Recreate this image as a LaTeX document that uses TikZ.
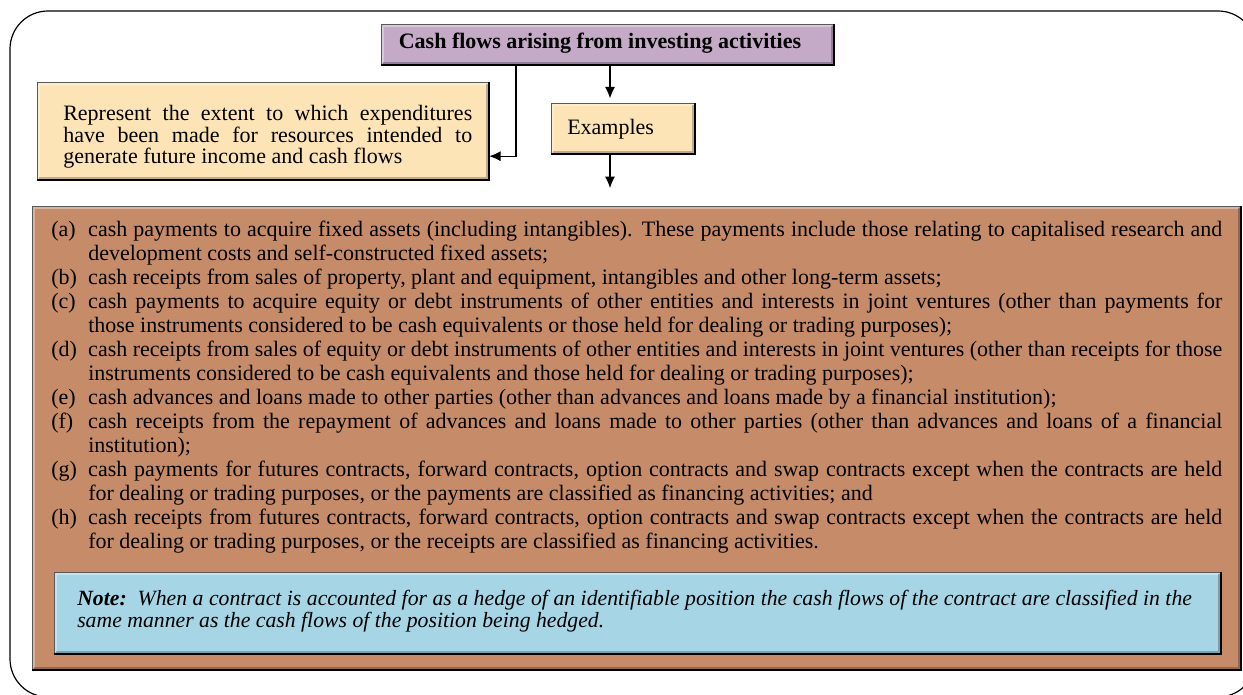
\documentclass[tikz,border=0pt]{standalone}
\usepackage{fontspec}
\setmainfont{Liberation Serif}
\usetikzlibrary{arrows.meta,calc}
\definecolor{titlepurple}{HTML}{C5AAC8}
\definecolor{tanfill}{HTML}{FDE4B6}
\definecolor{brownfill}{HTML}{C68B68}
\definecolor{bluefill}{HTML}{A6D5E5}
\newcommand{\listitem}[2]{\hangindent=27.75pt\hangafter=1\noindent\makebox[27.75pt][l]{#1}#2\par}
\begin{document}
\begin{tikzpicture}[x=0.75pt,y=-0.75pt,
  arr/.style={-{Latex[length=8.5pt,width=7.5pt]}, line width=0.8pt},
  boxbase/.style={draw=gray!70!black, line width=0.9pt, inner sep=0pt, anchor=north west},
  txt/.style={inner sep=0pt, anchor=base west},
  bev/.style={line width=1.6pt, black}]
\useasboundingbox (0,0) rectangle (1243,695);
\clip (0,0) rectangle (1243,695);
% outer frame
\draw[line width=0.9pt, rounded corners=28.5pt] (10,11) rectangle (1256,697);
% boxes
\node[boxbase, fill=titlepurple, minimum width=339pt, minimum height=30pt] (title) at (381,24) {};
\node[boxbase, fill=tanfill, minimum width=338.25pt, minimum height=72.75pt] (rep) at (37,82) {};
\node[boxbase, fill=tanfill, minimum width=107.25pt, minimum height=37.5pt] (ex) at (551,103) {};
\node[boxbase, fill=brownfill, minimum width=906pt, minimum height=347.25pt] (brown) at (32,206) {};
\node[boxbase, fill=bluefill, minimum width=874.5pt, minimum height=60.75pt] (note) at (54,572) {};
% bevels
\foreach \n in {title,rep,ex,brown,note}{
  \draw[white, opacity=0.35, line width=1.2pt] ([shift={(2,-2)}]\n.south west) -- ([shift={(2,2)}]\n.north west) -- ([shift={(-2,2)}]\n.north east);
  \draw[black, opacity=0.25, line width=1.2pt] ([shift={(2,-2)}]\n.south west) -- ([shift={(-2,-2)}]\n.south east) -- ([shift={(-2,2)}]\n.north east);
  \draw[bev] (\n.south west) -- (\n.south east) -- (\n.north east);
}
% texts
\node[inner sep=0pt, anchor=base, font=\bfseries\fontsize{16.5}{18}\selectfont] (titletext) at (600,49) {Cash flows arising from investing activities};
\node[txt] (reptext) at (63,121) {\parbox[t]{306.75pt}{\fontsize{16.5}{16}\selectfont Represent the extent to which expenditures\linebreak have been made for resources intended to\linebreak generate future income and cash flows\par}};
\node[txt, font=\fontsize{16.5}{18}\selectfont] (extext) at (567,135) {Examples};
\node[txt] (list) at (51,237) {\parbox[t]{878.25pt}{\fontsize{16.5}{18}\selectfont\tolerance=9999\emergencystretch=20pt
\listitem{(a)}{cash payments to acquire fixed assets (including intangibles). These payments include those relating to capitalised research and\linebreak development costs and self-constructed fixed assets;}
\listitem{(b)}{cash receipts from sales of property, plant and equipment, intangibles and other long-term assets;}
\listitem{(c)}{cash payments to acquire equity or debt instruments of other entities and interests in joint ventures (other than payments for\linebreak those instruments considered to be cash equivalents or those held for dealing or trading purposes);}
\listitem{(d)}{cash receipts from sales of equity or debt instruments of other entities and interests in joint ventures (other than receipts for those\linebreak instruments considered to be cash equivalents and those held for dealing or trading purposes);}
\listitem{(e)}{cash advances and loans made to other parties (other than advances and loans made by a financial institution);}
\listitem{(f)}{cash receipts from the repayment of advances and loans made to other parties (other than advances and loans of a financial\linebreak institution);}
\listitem{(g)}{cash payments for futures contracts, forward contracts, option contracts and swap contracts except when the contracts are held\linebreak for dealing or trading purposes, or the payments are classified as financing activities; and}
\listitem{(h)}{cash receipts from futures contracts, forward contracts, option contracts and swap contracts except when the contracts are held\linebreak for dealing or trading purposes, or the receipts are classified as financing activities.}
}};
\node[txt] (notetext) at (77,605) {\parbox[t]{836pt}{\fontsize{16.3}{16.5}\selectfont\tolerance=9999\itshape\textbf{Note:}\ \ When a contract is accounted for as a hedge of an identifiable position the cash flows of the contract are classified in the\linebreak same manner as the cash flows of the position being hedged.\par}};
% connectors
\coordinate (vx) at ($(title.south west)+(135,0)$);
\coordinate (hy) at ($(rep.south east)+(0,-24)$);
\draw[arr] (vx) |- (hy);
\coordinate (exa) at ($(ex.north west)+(59,0)$);
\draw[arr, shorten >=3.5pt] (exa |- title.south) -- (exa);
\coordinate (exb) at ($(ex.south west)+(59,0)$);
\draw[arr, shorten >=13.5pt] (exb) -- (exb |- brown.north);
\end{tikzpicture}
\end{document}
